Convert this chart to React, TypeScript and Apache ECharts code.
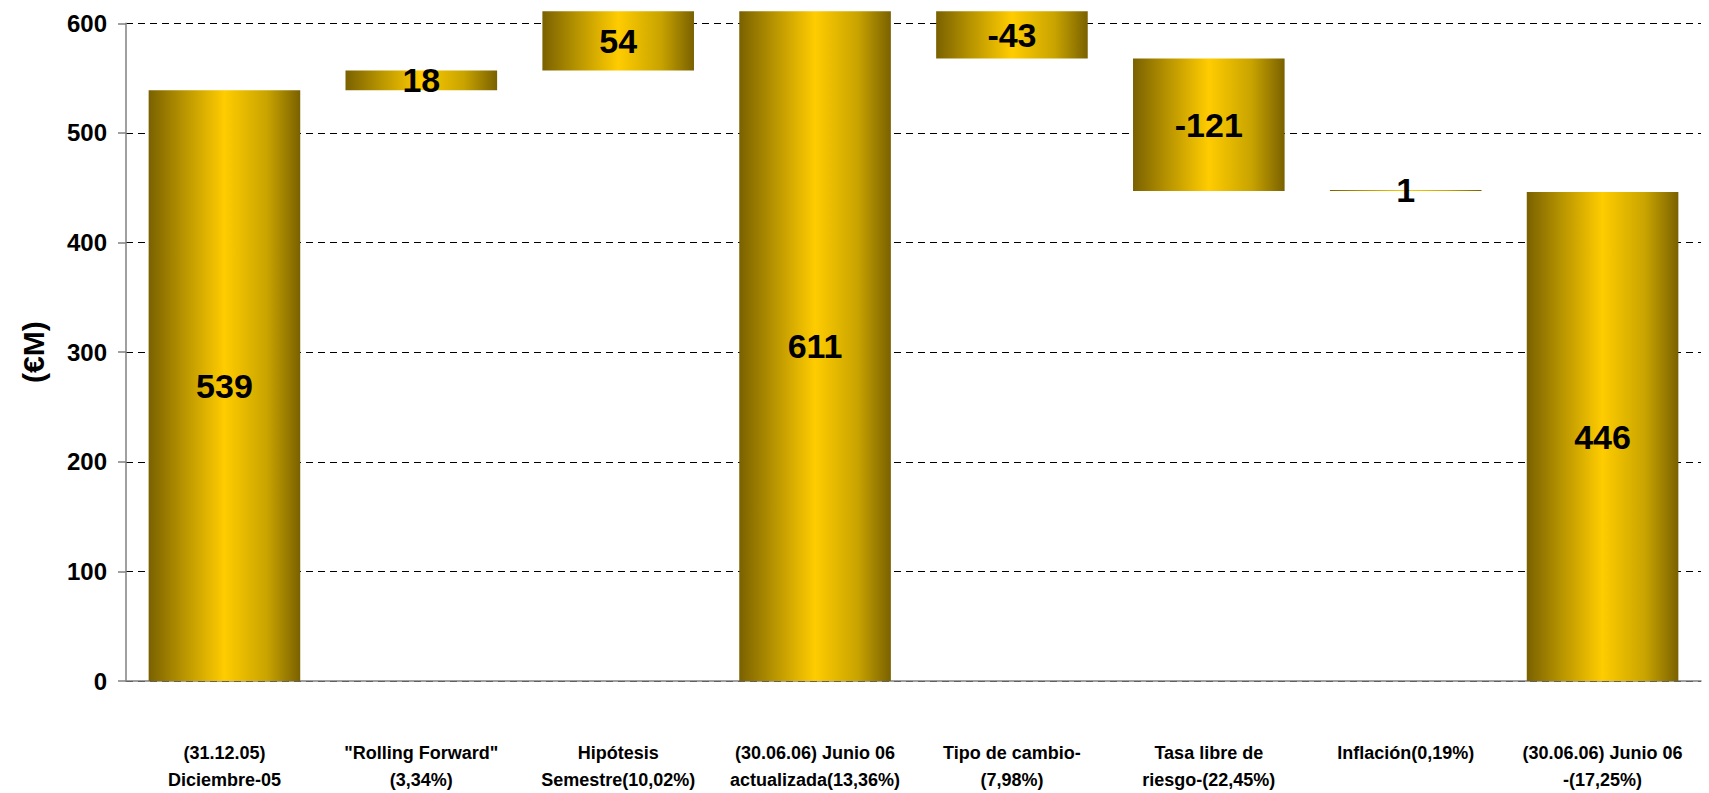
import React, { useEffect, useRef } from "react";
import * as echarts from "echarts";

const categories = [
  "(31.12.05)\nDiciembre-05",
  "\"Rolling Forward\"\n(3,34%)",
  "Hipótesis\nSemestre(10,02%)",
  "(30.06.06) Junio 06\nactualizada(13,36%)",
  "Tipo de cambio-\n(7,98%)",
  "Tasa libre de\nriesgo-(22,45%)",
  "Inflación(0,19%)",
  "(30.06.06) Junio 06\n-(17,25%)",
];
const values = [539, 18, 54, 611, -43, -121, 1, 446];
const isTotal = [true, false, false, true, false, false, false, true];
const yTicks = [0, 100, 200, 300, 400, 500, 600];

const FONT = 'Arial, "Liberation Sans", Helvetica, sans-serif';

export default function App() {
  const ref = useRef<HTMLDivElement>(null);
  useEffect(() => {
    if (!ref.current) return;
    const chart = echarts.init(ref.current, null, { renderer: "svg" });

    const base: number[] = [];
    const height: number[] = [];
    let running = 0;
    values.forEach((v, i) => {
      if (isTotal[i]) {
        base.push(0);
        height.push(v);
        running = v;
      } else if (v >= 0) {
        base.push(running);
        height.push(v);
        running += v;
      } else {
        base.push(running + v);
        height.push(-v);
        running += v;
      }
    });

    const grad = new echarts.graphic.LinearGradient(0, 0, 1, 0, [
      { offset: 0, color: "#7a6100" },
      { offset: 0.22, color: "#b59200" },
      { offset: 0.5, color: "#ffcc00" },
      { offset: 0.78, color: "#c9a400" },
      { offset: 1, color: "#7a6100" },
    ]);

    chart.setOption({
      animation: false,
      backgroundColor: "#ffffff",
      grid: { left: 126, right: 8, top: 23.3, bottom: 109.7, containLabel: false },
      xAxis: {
        type: "category",
        data: categories,
        axisLine: { show: true, onZero: false, lineStyle: { color: "#808080", width: 1.5 } },
        axisTick: { show: false },
        axisLabel: {
          interval: 0,
          margin: 58,
          fontFamily: FONT,
          fontWeight: "bold",
          fontSize: 18,
          lineHeight: 27,
          color: "#000",
          align: "center",
        },
      },
      yAxis: {
        type: "value",
        min: yTicks[0],
        max: yTicks[yTicks.length - 1],
        interval: 100,
        name: "(€M)",
        nameLocation: "middle",
        nameRotate: 90,
        nameGap: 78,
        nameTextStyle: { fontFamily: FONT, fontWeight: "bold", fontSize: 30, color: "#000" },
        axisLine: { show: true, lineStyle: { color: "#808080", width: 1.5 } },
        axisTick: { show: true, length: 8, lineStyle: { color: "#808080", width: 1.5 } },
        axisLabel: {
          margin: 19,
          fontFamily: FONT,
          fontWeight: "bold",
          fontSize: 24,
          color: "#000",
        },
        splitLine: { show: true, lineStyle: { color: "#000", type: [7, 5], width: 1 } },
      },
      series: [
        {
          type: "bar",
          stack: "w",
          data: base,
          barWidth: "77%",
          clip: false,
          silent: true,
          itemStyle: { color: "rgba(0,0,0,0)" },
          label: { show: false },
        },
        {
          type: "bar",
          stack: "w",
          data: height,
          barWidth: "77%",
          clip: false,
          itemStyle: { color: grad },
          label: {
            show: true,
            position: "inside",
            formatter: (p: any) => String(values[p.dataIndex]),
            fontFamily: FONT,
            fontWeight: "bold",
            fontSize: 34,
            color: "#000",
          },
        },
      ],
    });
    return () => chart.dispose();
  }, []);
  return (
    <div
      ref={ref}
      style={{ position: "fixed", left: 0, top: 0, width: 1709, height: 793, background: "#fff" }}
    />
  );
}
